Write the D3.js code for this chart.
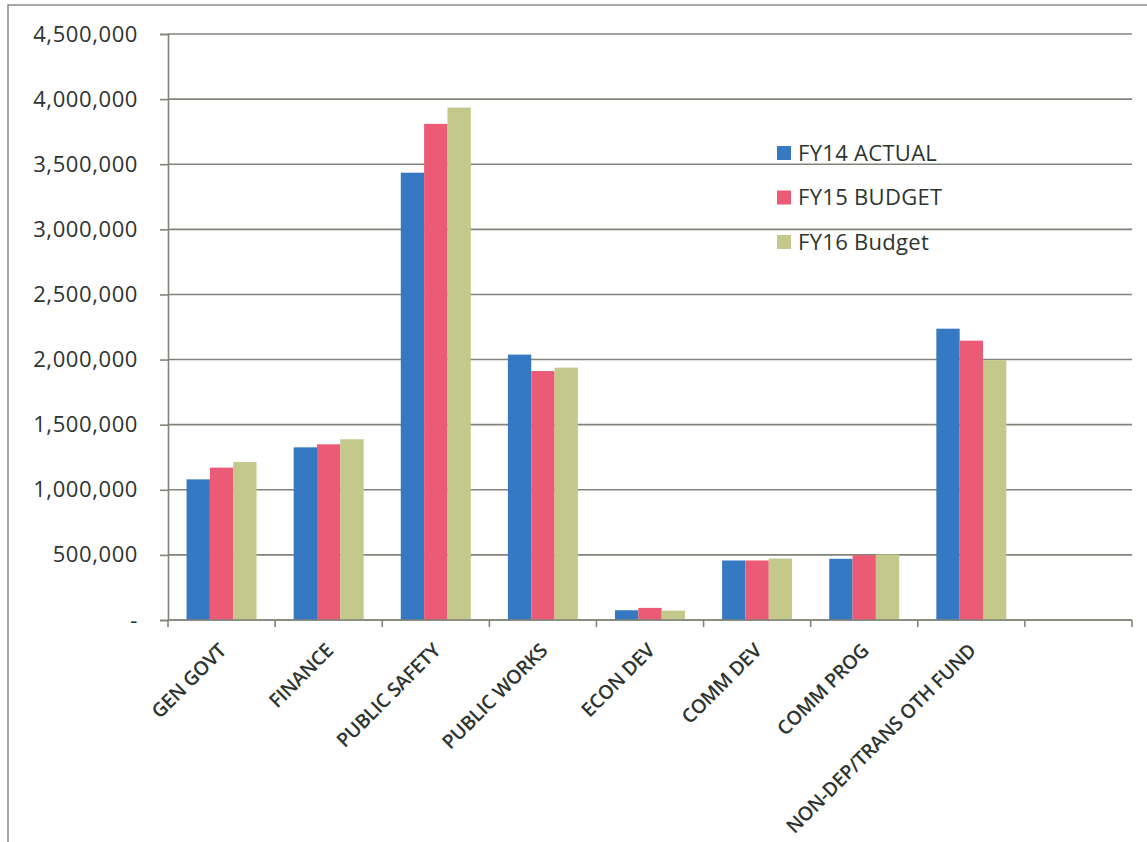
<!DOCTYPE html>
<html>
<head>
<meta charset="utf-8">
<script src="https://cdn.jsdelivr.net/npm/d3@7"></script>
<style>
  body { margin: 0; background: #fff; }
  svg { display: block; }
</style>
</head>
<body>
<div id="chart"></div>
<script>
////////////////////////////////////////////////////////////////////////
// Data

let categories = [
  "GEN GOVT",
  "FINANCE",
  "PUBLIC SAFETY",
  "PUBLIC WORKS",
  "ECON DEV",
  "COMM DEV",
  "COMM PROG",
  "NON-DEP/TRANS OTH FUND",
  ""            // empty slot at the right end of the axis
];

let seriesNames = ["FY14 ACTUAL", "FY15 BUDGET", "FY16 Budget"];

let fy14Actual = [1080000, 1326000, 3435000, 2038000, 75000, 457000, 470000, 2237000];
let fy15Budget = [1170000, 1349000, 3810000, 1912000, 93000, 457000, 498000, 2145000];
let fy16Budget = [1213000, 1388000, 3935000, 1938000, 72000, 472000, 503000, 1995000];

let yTicks = [0, 500000, 1000000, 1500000, 2000000, 2500000, 3000000, 3500000, 4000000, 4500000];

let seriesValues = [fy14Actual, fy15Budget, fy16Budget];
let colors = ["#3579c3", "#ec5b76", "#c4c98b"];

////////////////////////////////////////////////////////////////////////
// svg

let width = 1147;
let height = 842;
let plotLeft = 168, plotRight = 1132, plotTop = 34, plotBottom = 620;

let svg = d3.select("#chart")
  .append("svg")
  .attr("width", width).attr("height", height);

let fontFam = "'Open Sans', 'DejaVu Sans', sans-serif";
let textCol = "#2c3430";
let gridCol = "#80857b";

// outer frame of the embedded chart
svg.append("path")
  .attr("d", "M8,842 V5 H1147")
  .attr("fill", "none")
  .attr("stroke", "#8a8a8a")
  .attr("stroke-width", 1.5);

// scales
let xScale = d3.scaleBand()
  .domain(categories)
  .range([plotLeft, plotRight]);

let groupWidth = 70;
let xSub = d3.scaleBand()
  .domain(seriesNames)
  .range([0, groupWidth]);

let yScale = d3.scaleLinear()
  .domain([0, 4500000])
  .range([plotBottom, plotTop]);

// gridlines
svg.append("g")
  .selectAll(".grid")
  .data(yTicks)
  .enter()
  .append("line")
  .attr("class", "grid")
  .attr("x1", plotLeft).attr("x2", plotRight)
  .attr("y1", function(d) { return yScale(d); })
  .attr("y2", function(d) { return yScale(d); })
  .attr("stroke", gridCol)
  .attr("stroke-width", 1.6);

// bars
let groups = svg.append("g")
  .selectAll(".series")
  .data(seriesNames)
  .enter()
  .append("g")
  .attr("class", "series")
  .attr("fill", function(d, i) { return colors[i]; });

groups.selectAll("rect")
  .data(function(d, i) {
    return seriesValues[i].map(function(v, j) { return { cat: categories[j], s: d, v: v }; });
  })
  .enter()
  .append("rect")
  .attr("x", function(d) {
    return xScale(d.cat) + (xScale.bandwidth() - groupWidth) / 2 + xSub(d.s);
  })
  .attr("width", xSub.bandwidth())
  .attr("y", function(d) { return yScale(d.v); })
  .attr("height", function(d) { return yScale(0) - yScale(d.v); });

// y axis
let fmt = d3.format(",");
let yAxis = d3.axisLeft(yScale)
  .tickValues(yTicks)
  .tickSize(8)
  .tickPadding(22)
  .tickFormat(function(d) { return d === 0 ? "-" : fmt(d); });

let yG = svg.append("g")
  .attr("class", "axis")
  .attr("transform", "translate(" + plotLeft + ",0)")
  .call(yAxis);

yG.select(".domain").attr("stroke", gridCol).attr("stroke-width", 1.6);
yG.selectAll(".tick line").attr("stroke", gridCol).attr("stroke-width", 1.6);
yG.selectAll(".tick text")
  .attr("fill", textCol)
  .style("font-family", fontFam)
  .style("font-size", "22px")
  .attr("letter-spacing", "0.6px");

// x axis: ticks on category boundaries
let xG = svg.append("g").attr("class", "axis");
xG.append("line")
  .attr("x1", plotLeft).attr("x2", plotRight)
  .attr("y1", plotBottom).attr("y2", plotBottom)
  .attr("stroke", gridCol).attr("stroke-width", 1.6);

let boundaries = categories.map(function(c) { return xScale(c); }).concat([plotRight]);
xG.selectAll(".xtick")
  .data(boundaries)
  .enter()
  .append("line")
  .attr("class", "xtick")
  .attr("x1", function(d) { return d; }).attr("x2", function(d) { return d; })
  .attr("y1", plotBottom).attr("y2", plotBottom + 7)
  .attr("stroke", gridCol).attr("stroke-width", 1.6);

xG.selectAll(".xlabel")
  .data(categories.filter(function(c) { return c !== ""; }))
  .enter()
  .append("text")
  .attr("class", "xlabel")
  .attr("transform", function(d) {
    return "translate(" + (xScale(d) + xScale.bandwidth() / 2 + 1) + "," + (plotBottom + 27) + ") rotate(-45)";
  })
  .attr("text-anchor", "end")
  .attr("dy", "0.35em")
  .attr("fill", textCol)
  .style("font-family", fontFam)
  .style("font-size", "19.5px")
  .style("font-weight", 600)
  .attr("letter-spacing", "-0.3px")
  .text(function(d) { return d; });

// legend
let legend = svg.append("g")
  .attr("transform", "translate(777,153)");

let items = legend.selectAll(".legend")
  .data(seriesNames)
  .enter()
  .append("g")
  .attr("class", "legend")
  .attr("transform", function(d, i) { return "translate(0," + (i * 44.5) + ")"; });

items.append("rect")
  .attr("x", 0).attr("y", -7)
  .attr("width", 14).attr("height", 14)
  .attr("fill", function(d, i) { return colors[i]; });

items.append("text")
  .attr("x", 21)
  .attr("dy", "0.36em")
  .attr("fill", textCol)
  .style("font-family", fontFam)
  .style("font-size", "22px")
  .attr("letter-spacing", "0.3px")
  .text(function(d) { return d; });
</script>
</body>
</html>
